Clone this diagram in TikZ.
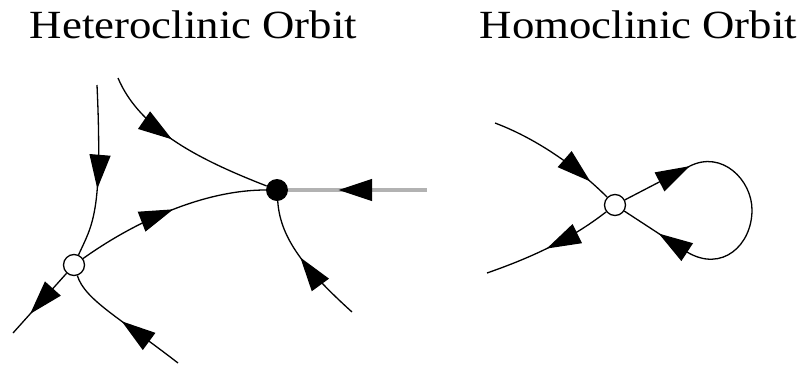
\documentclass[tikz,border=0pt]{standalone}
\usepackage{fontspec}
\setmainfont{Liberation Serif}
\usetikzlibrary{arrows.meta,decorations.markings}
\begin{document}
\begin{tikzpicture}[x=1pt,y=-1pt,
  flow/.style={line width=1.3pt,black},
  grayflow/.style={line width=4.5pt,black!30},
  arr/.style={postaction={decorate},decoration={markings,
     mark=at position #1 with {\arrow[black]{Triangle[length=34pt,width=21pt]}}}},
  openpt/.style={circle,draw,line width=1.3pt,fill=white,inner sep=0pt,minimum size=21pt},
  fullpt/.style={circle,fill=black,inner sep=0pt,minimum size=22pt},
  title/.style={anchor=base,inner sep=0pt,font=\fontsize{40}{46}\selectfont}]
\useasboundingbox (0,0) rectangle (801,365);

% titles
\node[title] (t1) at (193.5,38) {\scalebox{1.12}[1]{Heteroclinic Orbit}};
\node[title] (t2) at (638.5,38) {\scalebox{1.12}[1]{Homoclinic Orbit}};

% free ends
\coordinate (a1) at (97,85);
\coordinate (a2) at (118,78);
\coordinate (a3) at (427,190);
\coordinate (a4) at (352,312);
\coordinate (a5) at (178,363);
\coordinate (a6) at (13,333);
\coordinate (b1) at (495,123);
\coordinate (b2) at (487,273);
\coordinate (l1) at (690,166);
\coordinate (l2) at (752,210);
\coordinate (l3) at (687,252);

% fixed points
\node[fullpt] (D) at (277,190) {};
\node[openpt] (H) at (74,265) {};
\node[openpt] (O) at (615,205) {};

% heteroclinic
\draw[grayflow,arr=0.64] (a3) -- (D);
\draw[flow,arr=0.6] (a1) .. controls (103,215) and (92,225) .. (H);
\draw[flow,arr=0.44] (a2) .. controls (140,130) and (200,160) .. (D);
\draw[flow,arr=0.52] (H) .. controls (130,225) and (200,190) .. (D);
\draw[flow,arr=0.55] (a4) .. controls (300,265) and (280,235) .. (D);
\draw[flow,arr=0.52] (a5) .. controls (120,318) and (85,300) .. (H);
\draw[flow,arr=0.68] (H) -- (a6);

% homoclinic
\draw[flow,arr=0.83] (b1) .. controls (540,140) and (580,170) .. (O);
\draw[flow,arr=0.52] (O) .. controls (570,240) and (530,258) .. (b2);
\draw[flow,postaction={decorate},decoration={markings,
   mark=at position 73pt with {\arrow{Triangle[length=34pt,width=21pt]}},
   mark=at position -41pt with {\arrow{Triangle[length=34pt,width=21pt]}}}]
  (O) -- (l1) .. controls (722,150) and (752,180) .. (l2)
      .. controls (752,245) and (722,273) .. (l3) -- (O);
\end{tikzpicture}
\end{document}
